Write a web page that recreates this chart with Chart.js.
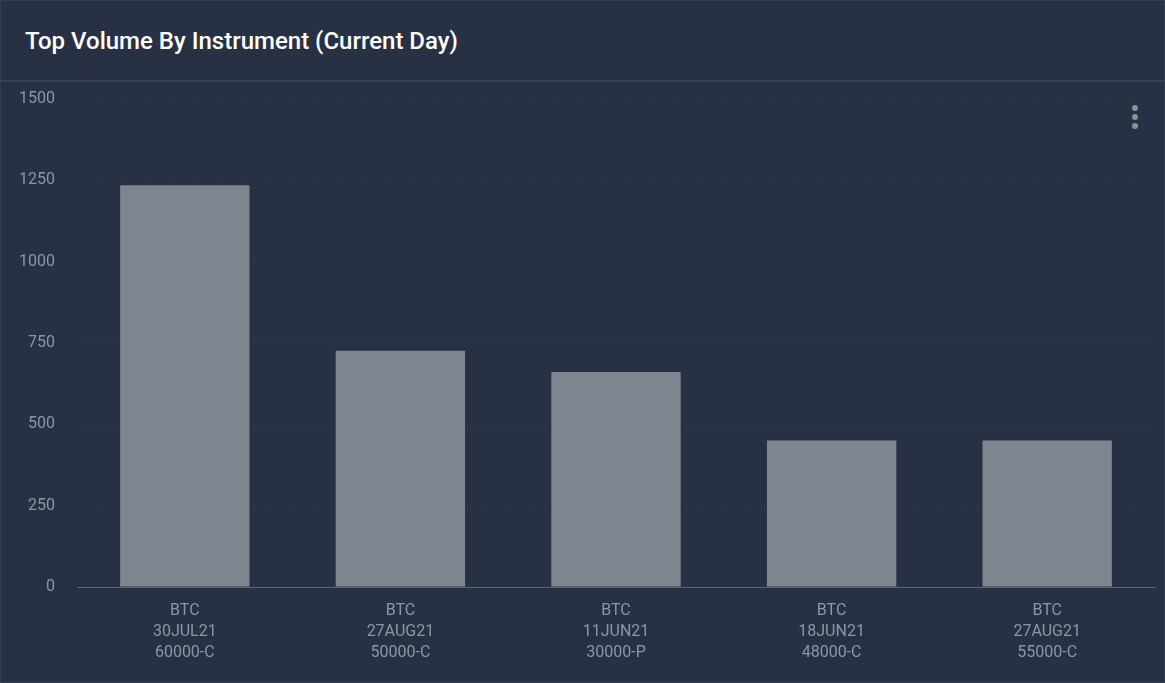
<!DOCTYPE html>
<html>
<head>
<meta charset="utf-8">
<script src="https://cdn.jsdelivr.net/npm/chart.js@4.4.0/dist/chart.umd.min.js"></script>
<style>
  html, body { margin: 0; padding: 0; }
  body {
    width: 1165px; height: 683px; overflow: hidden;
    background: #273143; font-family: Roboto, "Noto Sans", sans-serif;
  }
  .panel {
    position: relative; box-sizing: border-box;
    width: 1165px; height: 683px;
    border: 1px solid #333e50;
  }
  .header {
    box-sizing: border-box; height: 81px;
    border-bottom: 2px solid #364254;
    padding: 26px 0 0 24px;
    color: #ffffff; font-size: 24px; font-weight: 500;
  }
  .chart-box { position: absolute; left: 0; top: 81px; width: 1163px; height: 600px; }
  .menu { position: absolute; left: 1131px; top: 104px; width: 7px; }
  .menu span { display: block; width: 6px; height: 6px; border-radius: 50%; background: #8a919b; margin-bottom: 3px; }
</style>
</head>
<body>
<div class="panel">
  <div class="header">Top Volume By Instrument (Current Day)</div>
  <div class="chart-box"><canvas id="myChart"></canvas></div>
  <div class="menu"><span></span><span></span><span></span></div>
</div>
<script>
  const instruments = [
    ['BTC', '30JUL21', '60000-C'],
    ['BTC', '27AUG21', '50000-C'],
    ['BTC', '11JUN21', '30000-P'],
    ['BTC', '18JUN21', '48000-C'],
    ['BTC', '27AUG21', '55000-C']
  ];
  const volumes = [1235, 726, 661, 450, 450];
  const yTicks = [0, 250, 500, 750, 1000, 1250, 1500];

  const data = {
    labels: instruments,
    datasets: [{
      label: 'Volume',
      data: volumes,
      backgroundColor: '#7e858f',
      borderWidth: 0,
      categoryPercentage: 0.75,
      barPercentage: 0.8
    }]
  };

  // fixed axis sizes so the plot area sits where the original one does
  const config = {
    type: 'bar',
    data,
    options: {
      responsive: true,
      maintainAspectRatio: false,
      animation: false,
      layout: { padding: { left: 0, right: 9, top: 17, bottom: 0 } },
      plugins: {
        legend: { display: false },
        tooltip: { enabled: false }
      },
      scales: {
        x: {
          grid: { display: false, drawTicks: false },
          border: { display: true, color: '#5b6574', width: 1 },
          ticks: {
            color: '#8d96a3',
            font: { family: 'Roboto', size: 16, lineHeight: 1.3125 },
            padding: 13
          },
          afterFit: (s) => { s.height = 95; s.paddingLeft = 0; s.paddingRight = 0; }
        },
        y: {
          min: 0,
          max: 1500,
          afterBuildTicks: (axis) => { axis.ticks = yTicks.map(v => ({ value: v })); },
          grid: { color: '#364254', lineWidth: 1, drawTicks: false },
          border: { display: false, dash: [1, 2] },
          ticks: {
            color: '#8d96a3',
            font: { family: 'Roboto', size: 16 },
            padding: 22,
            callback: (v) => String(v)
          },
          afterFit: (s) => { s.width = 76; s.paddingTop = 0; s.paddingBottom = 0; }
        }
      }
    }
  };

  const myChart = new Chart(document.getElementById('myChart'), config);
</script>
</body>
</html>
